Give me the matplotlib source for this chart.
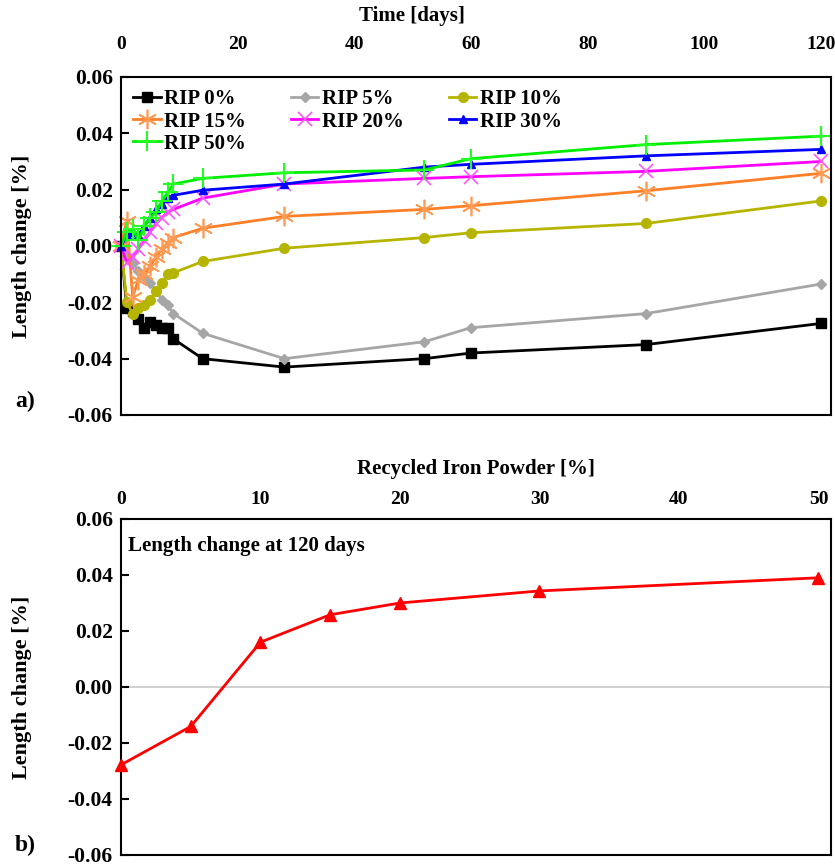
import numpy as np
import matplotlib
matplotlib.use("Agg")
import matplotlib.pyplot as plt
from matplotlib.ticker import FormatStrFormatter

plt.rcParams['font.family'] = 'Liberation Serif'
plt.rcParams['font.weight'] = 'bold'
plt.rcParams['axes.labelweight'] = 'bold'
plt.rcParams['axes.unicode_minus'] = False

# a) length change vs time
days = [0, 1, 2, 3, 4, 5, 6, 7, 8, 9, 14, 28, 52, 60, 90, 120]
rip0 = [0, -0.022, -0.023, -0.026, -0.029, -0.027, -0.028, -0.029, -0.029, -0.033,
        -0.040, -0.043, -0.040, -0.038, -0.035, -0.0275]
rip5 = [0, -0.004, -0.006, -0.009, -0.011, -0.013, -0.016, -0.019, -0.021, -0.024,
        -0.031, -0.040, -0.034, -0.029, -0.024, -0.0135]
rip10 = [0, -0.020, -0.024, -0.022, -0.021, -0.019, -0.016, -0.013, -0.010, -0.0095,
         -0.0055, -0.0008, 0.003, 0.0047, 0.008, 0.016]
rip15 = [0, 0.009, -0.018, -0.012, -0.010, -0.007, -0.004, -0.001, 0.001, 0.003,
         0.0063, 0.0105, 0.013, 0.0143, 0.0196, 0.0258]
rip20 = [0, -0.006, -0.004, -0.001, 0.002, 0.005, 0.008, 0.010, 0.012, 0.013,
         0.017, 0.022, 0.024, 0.0246, 0.0265, 0.030]
rip30 = [0, 0.004, 0.005, 0.004, 0.007, 0.010, 0.013, 0.015, 0.017, 0.018,
         0.0198, 0.022, 0.028, 0.029, 0.032, 0.0343]
rip50 = [0, 0.005, 0.006, 0.002, 0.007, 0.010, 0.012, 0.016, 0.019, 0.022,
         0.024, 0.026, 0.027, 0.031, 0.036, 0.039]

# b) length change at 120 days
rip_pct = [0, 5, 10, 15, 20, 30, 50]
change_120 = [-0.0278, -0.0141, 0.016, 0.0258, 0.030, 0.0343, 0.039]

series = [
    ("RIP 0%", rip0, dict(color='black', marker='s', ms=7, mfc='black', mec='black')),
    ("RIP 5%", rip5, dict(color='#A6A6A6', marker='D', ms=5, mfc='#A6A6A6', mec='#A6A6A6')),
    ("RIP 10%", rip10, dict(color='#B5B500', marker='o', ms=7, mfc='#B5B500', mec='#B5B500')),
    ("RIP 15%", rip15, dict(color='#FF7F27', marker=(6, 2, 0), ms=14, mec='#FF9A55', mew=1.2)),
    ("RIP 20%", rip20, dict(color='#FF00FF', marker='x', ms=10, mec='#FF55FF', mew=1.2)),
    ("RIP 30%", rip30, dict(color='#0000FF', marker='^', ms=6, mfc='#0000FF', mec='#0000FF')),
    ("RIP 50%", rip50, dict(color='#00EE00', marker='+', ms=14, mec='#22FF22', mew=1.5)),
]

fig = plt.figure(figsize=(8.35, 8.68), dpi=100)
ax1 = fig.add_axes([0.1449, 0.5219, 0.8503, 0.3894])
ax2 = fig.add_axes([0.1449, 0.0150, 0.8503, 0.3871])

handles = []
for name, vals, st in series:
    h, = ax1.plot(days, vals, lw=2, label=name, clip_on=False, **st)
    handles.append(h)

ax1.set_xlim(0, 121.7)
ax1.set_ylim(-0.06, 0.06)
ax1.set_xticks(np.arange(0, 121, 20))
ax1.set_yticks(np.arange(-0.06, 0.061, 0.02))
ax1.yaxis.set_major_formatter(FormatStrFormatter('%.2f'))
ax1.xaxis.tick_top()
ax1.xaxis.set_label_position('top')
ax1.tick_params(axis='x', length=0, pad=17, labelsize=14)
ax1.tick_params(axis='y', direction='in', length=6, width=1.5, pad=6, labelsize=15.5)
ax1.set_xlabel("Time [days]", fontsize=15, labelpad=8)
ax1.xaxis.set_label_coords(0.41, 1.165)
ax1.set_ylabel("Length change [%]", fontsize=16)
ax1.yaxis.set_label_coords(-0.125, 0.5)
for s in ax1.spines.values():
    s.set_linewidth(1.5)

order = [0, 3, 6, 1, 4, 2, 5]
ax1.legend([handles[i] for i in order], [handles[i].get_label() for i in order],
           ncol=3, loc='upper left', bbox_to_anchor=(0.0, 1.0), frameon=False,
           fontsize=15, handlelength=1.3, handletextpad=0.15, columnspacing=2.2,
           labelspacing=0.1, borderaxespad=0.2)

ax2.axhline(0, color='#C8C8C8', lw=1.2, zorder=1)
ax2.plot(rip_pct, change_120, color='#FF0000', lw=2, marker='^', ms=8,
         clip_on=False, zorder=3)
ax2.set_xlim(0, 50.9)
ax2.set_ylim(-0.06, 0.06)
ax2.set_xticks(np.arange(0, 51, 10))
ax2.set_yticks(np.arange(-0.06, 0.061, 0.02))
ax2.yaxis.set_major_formatter(FormatStrFormatter('%.2f'))
ax2.xaxis.tick_top()
ax2.xaxis.set_label_position('top')
ax2.tick_params(axis='x', length=0, pad=8, labelsize=14)
ax2.tick_params(axis='y', direction='in', length=6, width=1.5, pad=6, labelsize=15.5)
ax2.set_xlabel("Recycled Iron Powder [%]", fontsize=15, labelpad=12)
ax2.set_ylabel("Length change [%]", fontsize=16)
ax2.yaxis.set_label_coords(-0.125, 0.5)
for s in ax2.spines.values():
    s.set_linewidth(1.5)
ax2.text(0.01, 0.92, "Length change at 120 days", transform=ax2.transAxes,
         fontsize=15, ha='left', va='center')

fig.text(0.018, 0.537, "a)", fontsize=17, ha='left', va='center')
fig.text(0.018, 0.026, "b)", fontsize=17, ha='left', va='center')

fig.savefig("out.png", dpi=100)
